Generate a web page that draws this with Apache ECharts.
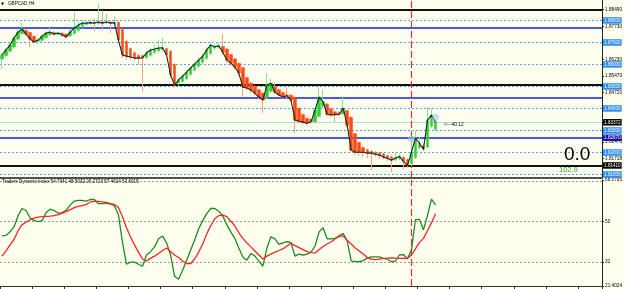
<!DOCTYPE html>
<html><head><meta charset="utf-8">
<script src="https://cdn.jsdelivr.net/npm/echarts@6/dist/echarts.min.js"></script>
<style>html,body{margin:0;padding:0;background:#fffff0;}#c{width:625px;height:289px;}</style>
</head><body><div id="c"></div>
<script>
// ---- data ----
const opens = [1.8625,1.8640,1.8660,1.8680,1.8715,1.8740,1.8755,1.8745,1.8728,1.8705,
1.8710,1.8722,1.8735,1.8745,1.8738,1.8742,1.8738,1.8730,1.8740,1.8755,
1.8772,1.8782,1.8786,1.8792,1.8787,1.8794,1.8789,1.8793,1.8784,1.8792,
1.8760,1.8705,1.8672,1.8653,1.8641,1.8640,1.8632,1.8642,1.8655,1.8662,
1.8668,1.8672,1.8660,1.8600,1.8515,1.8522,1.8535,1.8555,1.8575,1.8592,
1.8610,1.8628,1.8650,1.8675,1.8678,1.8682,1.8670,1.8645,1.8625,1.8605,
1.8585,1.8540,1.8515,1.8500,1.8485,1.8470,1.8450,1.8478,1.8498,1.8485,
1.8472,1.8462,1.8460,1.8450,1.8400,1.8372,1.8355,1.8350,1.8340,1.8365,
1.8410,1.8420,1.8398,1.8385,1.8380,1.8376,1.8390,1.8360,1.8285,1.8245,
1.8222,1.8212,1.8205,1.8201,1.8198,1.8194,1.8186,1.8180,1.8168,1.8172,
1.8178,1.8168,1.8150,1.8178,1.8222,1.8230,1.8225,1.8320,1.8305];
const closes = [1.8643,1.8666,1.8688,1.8720,1.8747,1.8761,1.8738,1.8716,1.8702,1.8711,
1.8729,1.8743,1.8747,1.8738,1.8743,1.8734,1.8725,1.8747,1.8766,1.8779,
1.8788,1.8788,1.8790,1.8788,1.8793,1.8788,1.8793,1.8788,1.8790,1.8711,
1.8643,1.8638,1.8634,1.8629,1.8629,1.8630,1.8652,1.8666,1.8670,1.8675,
1.8676,1.8643,1.8552,1.8506,1.8530,1.8547,1.8565,1.8584,1.8602,1.8620,
1.8638,1.8666,1.8688,1.8680,1.8685,1.8656,1.8620,1.8606,1.8588,1.8561,
1.8497,1.8493,1.8484,1.8470,1.8452,1.8438,1.8506,1.8515,1.8474,1.8461,
1.8452,1.8458,1.8438,1.8347,1.8342,1.8338,1.8333,1.8340,1.8393,1.8452,
1.8430,1.8374,1.8370,1.8372,1.8374,1.8402,1.8324,1.8211,1.8201,1.8201,
1.8201,1.8197,1.8197,1.8192,1.8188,1.8179,1.8174,1.8165,1.8175,1.8182,
1.8160,1.8140,1.8201,1.8265,1.8242,1.8215,1.8347,1.8370,1.8338];
const highs = [1.8655,1.8675,1.8698,1.8730,1.8760,1.8790,1.8762,1.8750,1.8732,1.8718,
1.8738,1.8752,1.8768,1.8752,1.8750,1.8748,1.8742,1.8760,1.8838,1.8795,
1.8800,1.8798,1.8805,1.8808,1.8878,1.8845,1.8830,1.8800,1.8818,1.8795,
1.8765,1.8710,1.8678,1.8660,1.8648,1.8645,1.8662,1.8676,1.8690,1.8712,
1.8720,1.8678,1.8665,1.8605,1.8540,1.8555,1.8575,1.8592,1.8612,1.8630,
1.8650,1.8678,1.8700,1.8692,1.8700,1.8738,1.8675,1.8650,1.8630,1.8610,
1.8590,1.8545,1.8520,1.8505,1.8490,1.8475,1.8560,1.8535,1.8520,1.8490,
1.8478,1.8497,1.8465,1.8455,1.8405,1.8378,1.8360,1.8355,1.8400,1.8497,
1.8485,1.8425,1.8402,1.8390,1.8386,1.8455,1.8395,1.8365,1.8290,1.8250,
1.8228,1.8218,1.8210,1.8206,1.8203,1.8199,1.8190,1.8185,1.8200,1.8195,
1.8182,1.8172,1.8265,1.8300,1.8270,1.8240,1.8406,1.8400,1.8345];
const lows = [1.8580,1.8632,1.8652,1.8672,1.8708,1.8735,1.8730,1.8678,1.8695,1.8690,
1.8702,1.8715,1.8728,1.8730,1.8732,1.8725,1.8718,1.8722,1.8735,1.8748,
1.8765,1.8776,1.8780,1.8750,1.8780,1.8755,1.8782,1.8743,1.8778,1.8700,
1.8630,1.8622,1.8620,1.8615,1.8597,1.8476,1.8622,1.8635,1.8648,1.8655,
1.8660,1.8630,1.8540,1.8495,1.8505,1.8515,1.8528,1.8548,1.8568,1.8585,
1.8602,1.8620,1.8642,1.8665,1.8670,1.8645,1.8608,1.8595,1.8578,1.8548,
1.8455,1.8480,1.8470,1.8458,1.8440,1.8379,1.8440,1.8470,1.8465,1.8450,
1.8440,1.8445,1.8428,1.8288,1.8332,1.8326,1.8322,1.8330,1.8335,1.8358,
1.8400,1.8365,1.8362,1.8338,1.8366,1.8370,1.8315,1.8200,1.8190,1.8185,
1.8180,1.8175,1.8120,1.8182,1.8170,1.8168,1.8160,1.8111,1.8160,1.8165,
1.8125,1.8130,1.8138,1.8170,1.8215,1.8205,1.8218,1.8310,1.8300];
const tdiGreen = [43.7,43.9,45.5,47.8,52.7,55.9,55.0,51.8,50.5,50.1,
50.5,54.1,55.6,55.0,53.8,54.1,55.2,57.4,59.2,59.5,
59.5,59.2,59.9,59.9,58.1,58.1,58.3,57.9,57.0,53.2,
41.0,31.1,32.0,32.0,31.1,30.2,35.2,36.7,38.8,42.4,
43.7,40.6,35.2,25.7,24.4,28.4,32.9,37.4,41.9,46.9,
50.5,53.6,55.9,55.9,54.7,52.7,48.7,45.5,42.6,38.3,
34.3,32.9,35.9,34.7,32.5,30.2,38.3,43.3,42.4,39.9,
40.6,41.1,40.7,34.7,35.6,35.2,35.6,36.5,39.2,45.5,
47.3,42.4,42.4,42.6,43.7,44.8,41.5,32.5,32.4,32.2,
32.7,33.8,34.4,34.4,34.4,33.7,33.4,32.2,32.5,35.2,
35.4,33.4,37.4,50.9,51.1,46.4,52.7,60.1,57.46];
const tdiRed = [34.7,37.0,39.7,42.1,46.0,48.7,49.8,50.9,51.6,52.1,
52.3,52.4,52.5,52.7,53.2,53.8,54.5,55.4,56.3,56.8,
57.2,57.7,58.8,59.1,59.1,58.8,58.6,58.1,57.7,56.3,
52.3,47.3,43.3,39.7,36.5,33.4,32.5,33.7,34.7,35.9,
37.2,38.3,36.7,35.2,34.1,32.5,31.4,31.4,33.4,36.5,
40.1,44.6,48.2,51.3,52.7,52.9,52.3,50.2,48.2,45.1,
42.6,40.6,38.8,37.0,35.2,33.4,34.7,35.6,36.5,37.2,
37.9,39.2,40.4,39.4,38.5,37.6,36.7,36.3,36.1,37.6,
39.0,40.1,41.0,42.4,43.5,43.7,41.7,40.1,38.3,37.0,
35.6,34.1,33.4,33.1,33.4,33.7,33.8,33.9,33.8,33.7,
33.7,33.7,35.2,37.9,40.8,42.6,46.0,49.6,53.60];
const priceTicks = [1.8849,1.8773,1.8623,1.8547,1.8472,1.82478,1.81718];
const roundLevels = [1.88,1.87,1.86,1.85,1.84,1.83,1.82,1.81];
const blackLevels = [1.8848,1.8506,1.8141];
const blueLevels = [1.8766,1.8451,1.8267];
const bidPrice = 1.83372;
const tdiLevels = [68,50,32];
const tdiTicks = [21.4024,32,50,68.5795];
const signalSlot = 102;
const slotCount = 150;
const symbolTitle = 'GBPCAD,H4';
const tdiTitle = 'Traders Dynamic Index 54.7341 48.5032 26.2723 57.4614 53.6015';
const timerText = '<---40:12';
const bigText = '0.0';
const smallText = '102.9';

// ---- chart ----
const FONT = 'Liberation Sans';
const slots = Array.from({length: slotCount}, (_, i) => String(i));
const isUp = opens.map((o, i) => closes[i] >= o);
const WU = '#95dd95', WD = '#f3a58c';
const wickData = lows.map((l, i) => {
  const c = isUp[i] ? WU : WD;
  return {value: [l, highs[i], l, highs[i]], itemStyle: {color: c, color0: c, borderColor: c, borderColor0: c}};
});
const bodyData = opens.map((o, i) => [o, closes[i], Math.min(o, closes[i]), Math.max(o, closes[i])]);

function tag(bg) {
  return {show: true, position: 'end', distance: 1, formatter: p => Number(p.value).toFixed(5),
    backgroundColor: bg, color: '#fff', fontSize: 4.6, fontFamily: FONT, padding: [1, 1, 0.5, 1], lineHeight: 5};
}
const mainLines = [].concat(
  roundLevels.map(v => ({yAxis: v, lineStyle: {type: [2, 2], color: '#5aa2ea', width: 1}, label: tag('#2b8ef0')})),
  blackLevels.map((v, i) => ({yAxis: v, lineStyle: {type: 'solid', color: '#111', width: 2}, label: i === 2 ? tag('#000') : {show: false}})),
  blueLevels.map((v, i) => ({yAxis: v, lineStyle: {type: 'solid', color: '#0a1ef5', width: 1.5}, label: i === 2 ? tag('#1414a8') : {show: false}})),
  [{yAxis: bidPrice, lineStyle: {type: 'solid', color: '#a6dde8', width: 1}, label: tag('#000')},
   {xAxis: slots[signalSlot], lineStyle: {type: [7, 3], color: '#ff2a2a', width: 1.2}, label: {show: false}}]
);
const tdiLines = [].concat(
  tdiLevels.map(v => ({yAxis: v, lineStyle: {type: [2, 2], color: '#9a9a9a', width: 1}, label: {show: false}})),
  [{xAxis: slots[signalSlot], lineStyle: {type: [7, 3], color: '#ff2a2a', width: 1.2}, label: {show: false}}]
);

const chart = echarts.init(document.getElementById('c'), null, {renderer: 'canvas', width: 625, height: 289});
chart.setOption({
  backgroundColor: '#fffff0',
  animation: false,
  textStyle: {fontFamily: FONT},
  grid: [
    {left: 0, right: 22, top: 0, height: 178},
    {left: 0, right: 22, top: 180, height: 106}
  ],
  xAxis: [
    {type: 'category', data: slots, gridIndex: 0, boundaryGap: true,
      axisLine: {show: true, lineStyle: {color: '#505050', width: 2}}, axisTick: {show: false}, axisLabel: {show: false}, splitLine: {show: false}},
    {type: 'category', data: slots, gridIndex: 1, boundaryGap: true,
      axisLine: {show: true, lineStyle: {color: '#333', width: 1}},
      axisTick: {show: true, interval: 7, length: 3, lineStyle: {color: '#333'}}, axisLabel: {show: false}, splitLine: {show: false}}
  ],
  yAxis: [
    {type: 'value', gridIndex: 0, position: 'right', min: 1.8084, max: 1.8893, scale: true,
      axisLine: {show: true, lineStyle: {color: '#222', width: 1}},
      axisTick: {show: true, length: 2, customValues: priceTicks, lineStyle: {color: '#222'}},
      axisLabel: {show: true, customValues: priceTicks, formatter: v => Number(v).toFixed(5), fontSize: 4.7, color: '#000', margin: 3, fontFamily: FONT},
      splitLine: {show: false}},
    {type: 'value', gridIndex: 1, position: 'right', min: 21.4024, max: 68.5795,
      axisLine: {show: true, lineStyle: {color: '#222', width: 1}},
      axisTick: {show: true, length: 2, customValues: tdiTicks, lineStyle: {color: '#222'}},
      axisLabel: {show: true, customValues: tdiTicks, formatter: v => (Number.isInteger(v) ? String(v) : Number(v).toFixed(4)), fontSize: 4.7, color: '#000', margin: 3, fontFamily: FONT},
      splitLine: {show: false}}
  ],
  series: [
    {type: 'candlestick', name: 'wick', xAxisIndex: 0, yAxisIndex: 0, barWidth: 1, data: wickData, z: 2, silent: true},
    {type: 'candlestick', name: 'body', xAxisIndex: 0, yAxisIndex: 0, barWidth: 3, data: bodyData, z: 3, silent: true,
      itemStyle: {color: '#33cc33', color0: '#ff4a12', borderColor: '#33cc33', borderColor0: '#ff4a12', borderWidth: 0.5}},
    {type: 'line', name: 'price', xAxisIndex: 0, yAxisIndex: 0, data: closes, symbol: 'none', z: 4, silent: true,
      lineStyle: {color: '#0d2b2b', width: 1.1},
      markLine: {silent: true, precision: 6, symbol: ['none', 'none'], data: mainLines, z: 1},
      markPoint: {silent: true, data: [
        {coord: [slots[108], 1.8360], symbol: 'circle', symbolSize: 7, itemStyle: {color: 'rgba(140,200,235,0.55)'}, label: {show: false}},
        {coord: [slots[102], 1.8262], symbol: 'circle', symbolSize: 7, itemStyle: {color: 'rgba(140,200,235,0.55)'}, label: {show: false}},
        {coord: [slots[110], 1.8325], symbol: 'circle', symbolSize: 1, itemStyle: {color: 'rgba(0,0,0,0)'},
          label: {show: true, position: 'right', distance: 0, formatter: timerText, fontSize: 4.8, color: '#000', fontFamily: FONT}}
      ]}},
    {type: 'line', name: 'tdiGreen', xAxisIndex: 1, yAxisIndex: 1, data: tdiGreen, symbol: 'none', silent: true, z: 4,
      lineStyle: {color: '#1f8a1f', width: 1.3},
      markLine: {silent: true, precision: 6, symbol: ['none', 'none'], data: tdiLines, z: 1}},
    {type: 'line', name: 'tdiRed', xAxisIndex: 1, yAxisIndex: 1, data: tdiRed, symbol: 'none', silent: true, z: 5,
      lineStyle: {color: '#ff2222', width: 1.3}}
  ],
  graphic: [
    {type: 'text', left: 1, top: 2, z: 100, style: {text: '▼', fontSize: 4, fill: '#000', fontFamily: 'DejaVu Sans'}},
    {type: 'text', left: 8, top: 1.5, z: 100, style: {text: symbolTitle, fontSize: 4.6, fill: '#000', fontFamily: FONT}},
    {type: 'text', left: 2, top: 179.5, z: 100, style: {text: tdiTitle, fontSize: 4.6, fill: '#000', fontFamily: FONT}},
    {type: 'text', left: 564, top: 145, z: 100, style: {text: bigText, fontSize: 19, fill: '#000', fontFamily: FONT}},
    {type: 'text', left: 559, top: 166, z: 100, style: {text: smallText, fontSize: 7.5, fill: '#3b9b3b', fontFamily: FONT}}
  ]
});
</script>
</body></html>
